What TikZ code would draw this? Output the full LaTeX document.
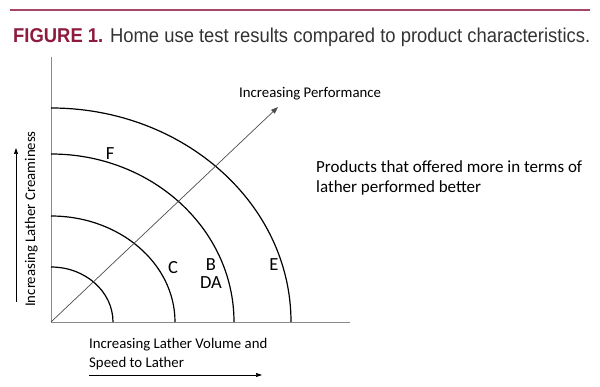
\documentclass[tikz,border=0pt]{standalone}
\usepackage{fontspec}
\setmainfont{Carlito}
\newfontfamily\titlefont{Liberation Sans}
\usetikzlibrary{arrows.meta}
\definecolor{maroon}{HTML}{8E1B3E}
\definecolor{rulecol}{HTML}{A8466A}
\definecolor{titlegray}{HTML}{333333}
\definecolor{axisgray}{HTML}{8A8A8A}
\tikzset{
  lbl/.style={inner sep=0pt, font=\fontsize{14.8}{18.5}\selectfont},
  letter/.style={inner sep=0pt, anchor=base, font=\fontsize{18.5}{20}\selectfont},
  axisline/.style={draw=axisgray, line width=0.9pt},
  ring/.style={draw=black, line width=1.2pt},
  perf/.style={draw=black!70, line width=0.7pt, -{Triangle[length=7pt,width=5pt]}},
  dirarrow/.style={draw=black, line width=0.7pt, -{Triangle[length=6pt,width=4pt]}}
}
\begin{document}
\begin{tikzpicture}[x=1pt,y=1pt]
\useasboundingbox (0,0) rectangle (600,386);
\draw[rulecol, line width=1.5pt] (10,376) -- (590,376);
\node[inner sep=0pt, anchor=base west] (title) at (13,343)
  {\resizebox{577pt}{14.5pt}{\titlefont{\bfseries\color{maroon}FIGURE 1.} \color{titlegray}Home use test results compared to product characteristics.}};
\coordinate (O) at (51,64);
\coordinate (ytop) at (51,329);
\coordinate (xend) at (350,64);
\coordinate (ptip) at (278,279);
\draw[axisline] (ytop) -- (O) -- (xend);
\draw[ring] (O) ++(62,0) arc[start angle=0,end angle=90,x radius=62pt,y radius=55pt];
\draw[ring] (O) ++(124,0) arc[start angle=0,end angle=90,x radius=124pt,y radius=106pt];
\draw[ring] (O) ++(183,0) arc[start angle=0,end angle=90,x radius=183pt,y radius=168pt];
\draw[ring] (O) ++(240,0) arc[start angle=0,end angle=90,x radius=240pt,y radius=214pt];
\draw[perf] (O) -- (ptip);
\node[lbl, anchor=base west] (perflbl) at (239,288) {Increasing Performance};
\node[letter] (F) at (110,226) {F};
\node[letter] (C) at (173,112) {C};
\node[letter] (B) at (211,115.5) {B};
\node[letter] (DA) at (211,98) {DA};
\node[letter] (E) at (274,116) {E};
\node[inner sep=0pt, anchor=base west, align=left, font=\fontsize{17}{20}\selectfont] (note) at (316,193.5)
  {Products that offered more in terms of\\lather performed better};
\node[lbl, anchor=base, rotate=90] (ylbl) at (35,167) {Increasing Lather Creaminess};
\coordinate (ya) at (16,84);
\coordinate (yb) at (16,238);
\draw[dirarrow] (ya) -- (yb);
\node[lbl, anchor=base west, align=left] (xlbl) at (89,19) {Increasing Lather Volume and\\Speed to Lather};
\coordinate (xa) at (89,11);
\coordinate (xb) at (262,11);
\draw[dirarrow] (xa) -- (xb);
\end{tikzpicture}
\end{document}
